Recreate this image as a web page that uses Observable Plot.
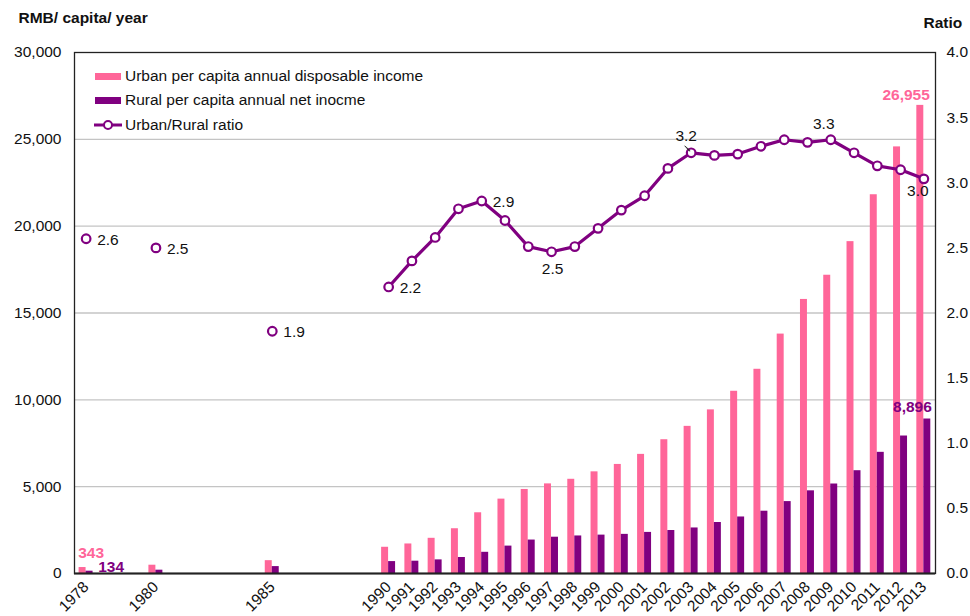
<!DOCTYPE html>
<html>
<head>
<meta charset="utf-8">
<script src="https://cdn.jsdelivr.net/npm/d3@7"></script>
<script src="https://cdn.jsdelivr.net/npm/@observablehq/plot@0.6"></script>
<style>
  html, body { margin: 0; padding: 0; background: #fff; }
  #wrap { position: relative; width: 970px; height: 616px; font-family: "Liberation Sans", Arial, sans-serif; }
  #chart { position: absolute; left: 0; top: 0; }
  .leg { position: absolute; left: 94px; height: 18px; line-height: 18px; font-size: 15.5px; color: #111; display: flex; align-items: center; white-space: nowrap; }
  .sw { width: 26px; height: 7px; margin-right: 4px; margin-left: 1px; }
  .lsw { width: 28px; height: 18px; margin-right: 3px; }
</style>
</head>
<body>
<div id="wrap">
  <div id="chart"></div>
  <div class="leg" style="top:67px"><div class="sw" style="background:#FF6699"></div>Urban per capita annual disposable income</div>
  <div class="leg" style="top:91px"><div class="sw" style="background:#800080"></div>Rural per capita annual net inocme</div>
  <div class="leg" style="top:116px"><svg class="lsw" width="28" height="18"><line x1="0" x2="28" y1="9" y2="9" stroke="#800080" stroke-width="3"/><circle cx="14" cy="9" r="4" fill="#fff" stroke="#800080" stroke-width="2"/></svg>Urban/Rural ratio</div>
</div>
<script>
// Category axis slots (blank slots as in the original chart)
const categories = ["1978","","","1980","","","","","1985","","","","","1990","1991","1992","1993","1994","1995","1996","1997","1998","1999","2000","2001","2002","2003","2004","2005","2006","2007","2008","2009","2010","2011","2012","2013"];

const years = [1978,1980,1985,1990,1991,1992,1993,1994,1995,1996,1997,1998,1999,2000,2001,2002,2003,2004,2005,2006,2007,2008,2009,2010,2011,2012,2013];
const urban = [343.4,477.6,739.1,1510.2,1700.6,2026.6,2577.4,3496.2,4283.0,4838.9,5160.3,5425.1,5854.0,6280.0,6859.6,7702.8,8472.2,9421.6,10493.0,11759.5,13785.8,15780.8,17174.7,19109.4,21809.8,24564.7,26955.1];
const rural = [133.6,191.3,397.6,686.3,708.6,784.0,921.6,1221.0,1577.7,1926.1,2090.1,2162.0,2210.3,2253.4,2366.4,2475.6,2622.2,2936.4,3254.9,3587.0,4140.4,4760.6,5153.2,5919.0,6977.3,7916.6,8895.9];
const ratio = [2.57,2.50,1.86,2.20,2.40,2.58,2.80,2.86,2.71,2.51,2.47,2.51,2.65,2.79,2.90,3.11,3.23,3.21,3.22,3.28,3.33,3.31,3.33,3.23,3.13,3.10,3.03];

const yTicks = [0,5000,10000,15000,20000,25000,30000];
const ratioTicks = [0,0.5,1,1.5,2,2.5,3,3.5,4];

const RATIO_SCALE = 30000 / 4; // right axis 0–4.0 maps onto left axis 0–30,000

const rows = years.map((y, i) => ({
  year: y,
  slot: categories.indexOf(String(y)),
  urban: urban[i],
  rural: rural[i],
  ratio: ratio[i],
  ry: ratio[i] * RATIO_SCALE
}));
const pick = ys => rows.filter(d => ys.includes(d.year));

const PINK = "#FF6699", PURPLE = "#800080";
const labelSlots = d3.range(categories.length).filter(i => categories[i] !== "");

const chart = Plot.plot({
  width: 970,
  height: 616,
  marginLeft: 74,
  marginRight: 35,
  marginTop: 52,
  marginBottom: 43,
  style: { fontFamily: "Liberation Sans, Arial, sans-serif", fontSize: "15.5px", background: "#fff", color: "#111", overflow: "visible" },
  x: { type: "band", domain: d3.range(categories.length), padding: 0, round: false },
  y: { domain: [0, 30000] },
  marks: [
    Plot.gridY(yTicks.slice(1, -1), { stroke: "#c4c4c4", strokeOpacity: 1, strokeWidth: 1.3 }),
    Plot.axisY({ ticks: yTicks, tickSize: 0, tickPadding: 13, tickFormat: d3.format(","), label: null }),
    Plot.axisY({ anchor: "right", ticks: ratioTicks.map(r => r * RATIO_SCALE), tickFormat: d => (d / RATIO_SCALE).toFixed(1), tickSize: 0, tickPadding: 11, label: null }),
    Plot.axisX({ ticks: labelSlots, tickFormat: i => categories[i], tickRotate: -45, tickSize: 0, tickPadding: 11, label: null }),
    Plot.barY(rows, { x: "slot", y: "urban", fill: PINK, insetLeft: 4.6, insetRight: 11.7 }),
    Plot.barY(rows, { x: "slot", y: "rural", fill: PURPLE, insetLeft: 11.6, insetRight: 4.7 }),
    Plot.frame({ stroke: "#222", strokeWidth: 1.3 }),
    Plot.ruleY([0], { stroke: "#222", strokeWidth: 2 }),
    Plot.line(rows.filter(d => d.year >= 1990), { x: "slot", y: "ry", stroke: PURPLE, strokeWidth: 3.2 }),
    Plot.dot(rows, { x: "slot", y: "ry", r: 4.3, fill: "#fff", stroke: PURPLE, strokeWidth: 2.2 }),
    // ratio labels
    Plot.text(pick([1978,1980,1985,1990,1994]), { x: "slot", y: "ry", text: d => d.ratio.toFixed(1), textAnchor: "start", dx: 11, dy: 1, fill: "#111" }),
    Plot.text(pick([1997]), { x: "slot", y: "ry", text: d => d.ratio.toFixed(1), dx: 1, dy: 17, fill: "#111" }),
    Plot.text(pick([2003]), { x: "slot", y: "ry", text: d => d.ratio.toFixed(1), dx: -5, dy: -17, fill: "#111" }),
    Plot.vector(pick([2003]), { x: "slot", y: "ry", length: 7, rotate: -45, anchor: "start", shape: "spike", r: 0.5, stroke: "#222", fill: "#222", strokeWidth: 0.6, dx: -1.5, dy: -2 }),
    Plot.text(pick([2009]), { x: "slot", y: "ry", text: d => d.ratio.toFixed(1), dx: -7, dy: -16, fill: "#111" }),
    Plot.text(pick([2013]), { x: "slot", y: "ry", text: d => d.ratio.toFixed(1), dx: -6, dy: 12, fill: "#111" }),
    // value labels
    Plot.text(pick([1978]), { x: "slot", y: "urban", text: d => d3.format(",")(Math.round(d.urban)), textAnchor: "start", dx: -8, dy: -15, fill: PINK, fontWeight: "bold" }),
    Plot.text(pick([1978]), { x: "slot", y: "rural", text: d => d3.format(",")(Math.round(d.rural)), textAnchor: "start", dx: 12, dy: -4, fill: PURPLE, fontWeight: "bold" }),
    Plot.text(pick([2013]), { x: "slot", y: "urban", text: d => d3.format(",")(Math.round(d.urban)), textAnchor: "end", dx: 6, dy: -10, fill: PINK, fontWeight: "bold" }),
    Plot.text(pick([2013]), { x: "slot", y: "rural", text: d => d3.format(",")(Math.round(d.rural)), textAnchor: "end", dx: 8, dy: -11.5, fill: PURPLE, fontWeight: "bold" }),
    // axis titles
    Plot.text(["RMB/ capita/ year"], { frameAnchor: "top-left", lineAnchor: "middle", text: d => d, textAnchor: "start", dx: -56, dy: -34, fontWeight: "bold", fill: "#111" }),
    Plot.text(["Ratio"], { frameAnchor: "top-right", lineAnchor: "middle", text: d => d, textAnchor: "start", dx: -12, dy: -29, fontWeight: "bold", fill: "#111" })
  ]
});
document.getElementById("chart").appendChild(chart);
</script>
</body>
</html>
